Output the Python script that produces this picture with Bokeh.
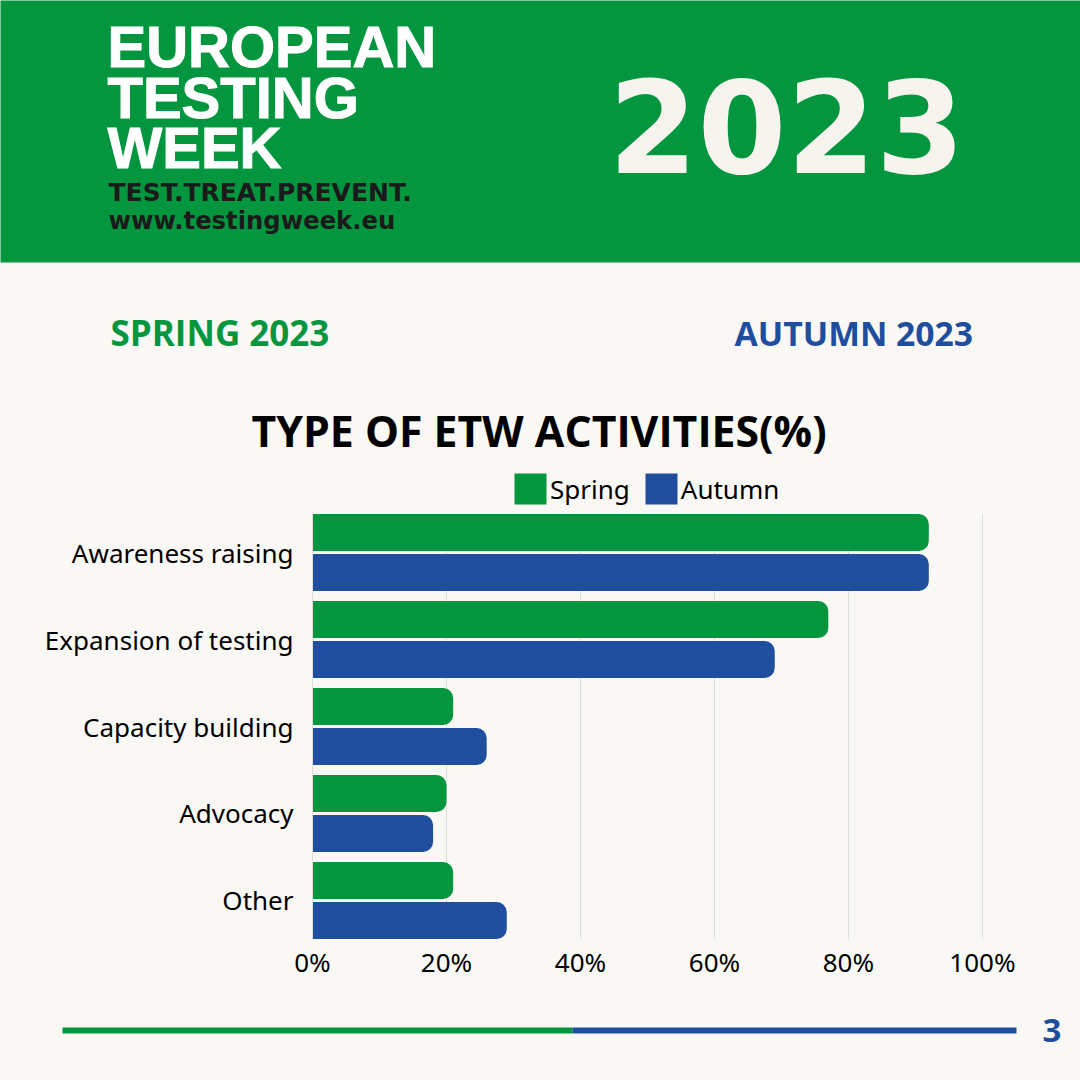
from bokeh.embed import file_html
from bokeh.resources import INLINE
from bokeh.models import (ColumnDataSource, FactorRange, Range1d, Label, BoxAnnotation,
                          FixedTicker, PrintfTickFormatter, Legend, LegendItem)
from bokeh.plotting import figure
from bokeh.transform import dodge

categories = ["Awareness raising", "Expansion of testing", "Capacity building", "Advocacy", "Other"]
spring = [92, 77, 21, 20, 21]
autumn = [92, 69, 26, 18, 29]
x_ticks = [0, 20, 40, 60, 80, 100]

GREEN = "#03963F"
BLUE = "#1F4E9F"
CREAM = "#FAF8F5"


def panel(y0, y1):
    f = figure(width=1080, height=y1 - y0, output_backend="svg", toolbar_location=None,
               x_range=Range1d(0, 1080), y_range=Range1d(y1, y0),
               min_border=0, background_fill_color=CREAM, border_fill_color=CREAM, outline_line_color=None)
    f.axis.visible = False
    f.grid.visible = False
    return f


def box(f, l, r, t, b, color):
    f.add_layout(BoxAnnotation(left=l, right=r, top=t, bottom=b, fill_color=color, fill_alpha=1, line_color=None))


def text(f, t, x, y, size, color, font="Liberation Sans", style="bold", outline=None):
    # Label places its alphabetic baseline about 0.4 em below y in this renderer
    f.add_layout(Label(x=x, y=y - 0.4 * size, text=t, text_font=font, text_font_size=f"{size}px",
                       text_font_style=style, text_color=color, text_align="left", text_baseline="alphabetic",
                       text_outline_color=outline))


top = panel(0, 513)
box(top, -5, 1085, -5, 262, GREEN)
text(top, "EUROPEAN", 107, 69, 58, "#FFFFFF", outline="#FFFFFF")
text(top, "TESTING", 107, 120, 58, "#FFFFFF", outline="#FFFFFF")
text(top, "WEEK", 107, 170, 58, "#FFFFFF", outline="#FFFFFF")
text(top, "TEST.TREAT.PREVENT.", 108, 202, 25, "#1A1A1A", font="DejaVu Sans")
text(top, "www.testingweek.eu", 108, 230, 24.3, "#1A1A1A", font="DejaVu Sans")
text(top, "2023", 608, 177, 128, "#F7F4EF", font="DejaVu Sans")
text(top, "SPRING 2023", 110, 346, 35, GREEN, font="Open Sans")
text(top, "AUTUMN 2023", 734, 346, 33.7, BLUE, font="Open Sans")
text(top, "TYPE OF ETW ACTIVITIES(%)", 251, 447, 42.8, "#000000", font="Open Sans")

# legend keys: zero-width bars of the series, placed outside this panel's visible range, so only swatches show
key_source = ColumnDataSource(dict(spring=spring, autumn=autumn, off=[-100] * len(spring)))
key_spring = top.hbar(y="off", right="spring", left="spring", height=1, source=key_source, fill_color=GREEN, line_color=None)
key_autumn = top.hbar(y="off", right="autumn", left="autumn", height=1, source=key_source, fill_color=BLUE, line_color=None)
legend = Legend(items=[LegendItem(label="Spring", renderers=[key_spring]),
                       LegendItem(label="Autumn", renderers=[key_autumn])],
                orientation="horizontal", location=(510, 5), padding=0, margin=0, spacing=11,
                glyph_width=40, glyph_height=39, label_standoff=0,
                label_text_font="Noto Sans", label_text_font_size="26px", label_text_color="#000000",
                background_fill_alpha=0, border_line_color=None)
top.add_layout(legend)

source = ColumnDataSource(dict(cat=categories, spring=spring, autumn=autumn))
y_range = FactorRange(factors=list(reversed(categories)), range_padding=-0.0515, range_padding_units="absolute")
p = figure(width=1080, height=487, output_backend="svg", toolbar_location=None,
           x_range=Range1d(0, 103), y_range=y_range,
           min_border_left=312, min_border_right=1080 - 312 - 690, min_border_top=0, min_border_bottom=61,
           background_fill_color=CREAM, border_fill_color=CREAM, outline_line_color=None)

p.hbar(y=dodge("cat", 0.23, range=y_range), right="spring", left=0, height=0.425, source=source,
       fill_color=GREEN, line_color=None, border_radius=(0, 10, 10, 0))
p.hbar(y=dodge("cat", -0.23, range=y_range), right="autumn", left=0, height=0.425, source=source,
       fill_color=BLUE, line_color=None, border_radius=(0, 10, 10, 0))

p.xaxis.ticker = FixedTicker(ticks=x_ticks)
p.xaxis.formatter = PrintfTickFormatter(format="%d%%")
p.xaxis.axis_line_color = None
p.xaxis.major_tick_line_color = None
p.xaxis.minor_tick_line_color = None
p.xaxis.major_tick_out = 0
p.xaxis.major_label_standoff = 4
p.xaxis.major_label_text_font = "Noto Sans"
p.xaxis.major_label_text_font_size = "26px"
p.xaxis.major_label_text_color = "#000000"

p.yaxis.axis_line_color = "#DDDDDB"
p.yaxis.major_tick_line_color = None
p.yaxis.minor_tick_line_color = None
p.yaxis.major_tick_out = 0
p.yaxis.major_label_standoff = 19
p.yaxis.major_label_text_font = "Noto Sans"
p.yaxis.major_label_text_font_size = "26px"
p.yaxis.major_label_text_color = "#000000"

p.xgrid.grid_line_color = "#DDDDDB"
p.ygrid.grid_line_color = None

foot = panel(1000, 1080)
box(foot, 62, 572, 1027, 1033, GREEN)
box(foot, 572, 1016, 1027, 1033, BLUE)
text(foot, "3", 1042, 1043, 33, BLUE, font="Open Sans")

html = file_html((top, p, foot), INLINE)
html = html.replace("</head>", "<style>html,body{background:%s}</style></head>" % CREAM, 1)
open("out.html", "w").write(html)
